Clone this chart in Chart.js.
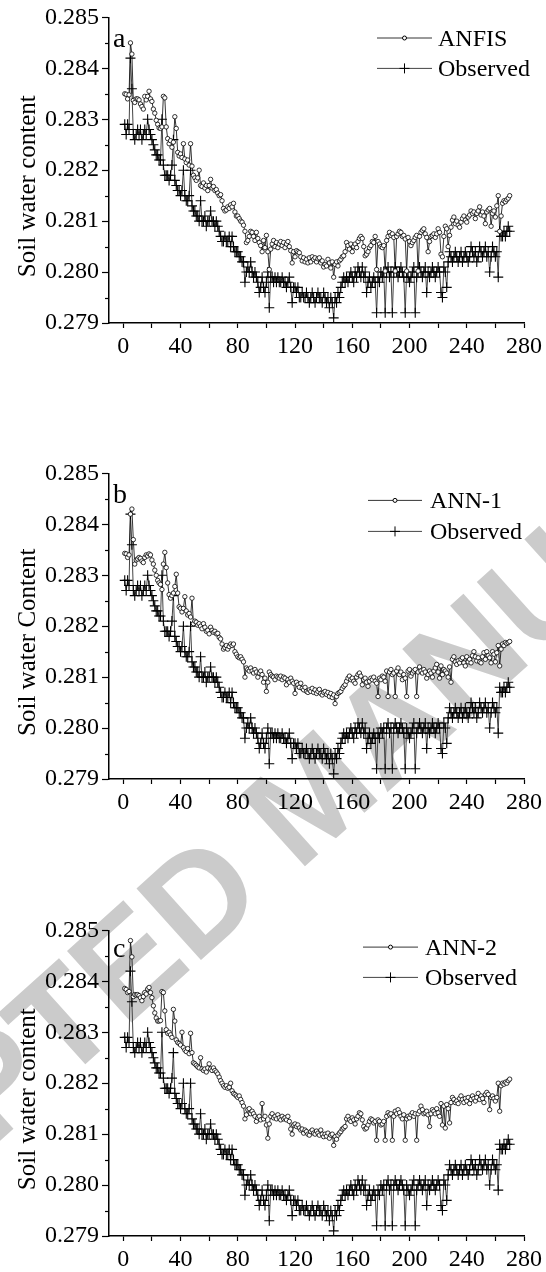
<!DOCTYPE html>
<html>
<head>
<meta charset="utf-8">
<title>Soil water content: ANFIS, ANN-1, ANN-2 vs observed</title>
<script src="https://cdn.jsdelivr.net/npm/chart.js"></script>
<style>
    body { margin: 0; background: #fff; }
    #page { position: relative; width: 546px; height: 1272px; overflow: hidden; }
    #mark { position: absolute; left: 0; top: 0; }
    .panel { position: absolute; left: 0; width: 546px; height: 368px; }
</style>
</head>
<body>
<div id="page">
    <canvas id="mark" width="546" height="1272"></canvas>
    <div class="panel" style="top:0px"><canvas id="chartA"></canvas></div>
    <div class="panel" style="top:456px"><canvas id="chartB"></canvas></div>
    <div class="panel" style="top:913px"><canvas id="chartC"></canvas></div>
</div>

<script>
// ---- data ----
const xTicks = [0, 20, 40, 60, 80, 100, 120, 140, 160, 180, 200, 220, 240, 260, 280];
const xLabels = [0, 40, 80, 120, 160, 200, 240, 280];
const yTicks = [0.279, 0.2795, 0.280, 0.2805, 0.281, 0.2815, 0.282, 0.2825, 0.283, 0.2835, 0.284, 0.2845, 0.285];
const yLabels = [0.279, 0.280, 0.281, 0.282, 0.283, 0.284, 0.285];

// day number of each observation
const days = Array.from({ length: 270 }, (_, i) => i + 1);

const observed = [
    0.2829, 0.2827, 0.2829, 0.2828, 0.2842, 0.2836, 0.2827, 0.2826, 0.2827, 0.2828,
    0.2827, 0.2828, 0.2826, 0.2827, 0.2828, 0.2827, 0.2830, 0.2828, 0.2827, 0.2826,
    0.2825, 0.2824, 0.2823, 0.2823, 0.2822, 0.2822, 0.2830, 0.2821, 0.2819, 0.2819,
    0.2819, 0.2818, 0.2819, 0.2821, 0.2826, 0.2818, 0.2817, 0.2816, 0.2816, 0.2815,
    0.2816, 0.2820, 0.2815, 0.2814, 0.2814, 0.2815, 0.2820, 0.2813, 0.2812, 0.2812,
    0.2811, 0.2811, 0.2810, 0.2814, 0.2810, 0.2810, 0.2811, 0.2809, 0.2810, 0.2810,
    0.2812, 0.2810, 0.2810, 0.2809, 0.2810, 0.2809, 0.2808, 0.2807, 0.2806, 0.2806,
    0.2807, 0.2806, 0.2806, 0.2807, 0.2805, 0.2807, 0.2805, 0.2804, 0.2804, 0.2804,
    0.2803, 0.2803, 0.2802, 0.2802, 0.2798, 0.2800, 0.2801, 0.2800, 0.2802, 0.2800,
    0.2799, 0.2800, 0.2799, 0.2798, 0.2796, 0.2797, 0.2799, 0.2797, 0.2796, 0.2798,
    0.2800, 0.2793, 0.2799, 0.2799, 0.2798, 0.2799, 0.2798, 0.2799, 0.2798, 0.2798,
    0.2799, 0.2798, 0.2798, 0.2797, 0.2798, 0.2799, 0.2797, 0.2794, 0.2797, 0.2797,
    0.2796, 0.2797, 0.2795, 0.2795, 0.2796, 0.2795, 0.2795, 0.2796, 0.2795, 0.2794,
    0.2795, 0.2796, 0.2795, 0.2794, 0.2795, 0.2796, 0.2795, 0.2795, 0.2794, 0.2796,
    0.2795, 0.2794, 0.2795, 0.2793, 0.2795, 0.2794, 0.2791, 0.2795, 0.2794, 0.2796,
    0.2795, 0.2797, 0.2798, 0.2799, 0.2798, 0.2799, 0.2798, 0.2799, 0.2800, 0.2799,
    0.2798, 0.2800, 0.2799, 0.2801, 0.2800, 0.2799, 0.2801, 0.2799, 0.2800, 0.2796,
    0.2798, 0.2799, 0.2797, 0.2798, 0.2799, 0.2798, 0.2792, 0.2799, 0.2798, 0.2800,
    0.2799, 0.2800, 0.2792, 0.2800, 0.2801, 0.2799, 0.2800, 0.2792, 0.2800, 0.2801,
    0.2800, 0.2799, 0.2800, 0.2801, 0.2800, 0.2799, 0.2792, 0.2800, 0.2799, 0.2798,
    0.2799, 0.2800, 0.2801, 0.2792, 0.2799, 0.2800, 0.2801, 0.2800, 0.2799, 0.2800,
    0.2801, 0.2796, 0.2800, 0.2799, 0.2800, 0.2801, 0.2800, 0.2799, 0.2800, 0.2801,
    0.2800, 0.2796, 0.2795, 0.2801, 0.2800, 0.2797, 0.2802, 0.2804, 0.2803, 0.2802,
    0.2803, 0.2804, 0.2803, 0.2802, 0.2803, 0.2804, 0.2802, 0.2803, 0.2804, 0.2803,
    0.2802, 0.2803, 0.2805, 0.2804, 0.2803, 0.2804, 0.2802, 0.2803, 0.2805, 0.2804,
    0.2803, 0.2804, 0.2805, 0.2803, 0.2804, 0.2800, 0.2803, 0.2805, 0.2804, 0.2803,
    0.2804, 0.2799, 0.2808, 0.2807, 0.2807, 0.2808, 0.2807, 0.2808, 0.2809, 0.2808
];

const anfis = [
    0.28350, 0.28349, 0.28340, 0.28348, 0.28450, 0.28428, 0.28337, 0.28333, 0.28340, 0.28340,
    0.28338, 0.28330, 0.28325, 0.28320, 0.28345, 0.28338, 0.28345, 0.28355, 0.28340, 0.28335,
    0.28320, 0.28312, 0.28298, 0.28290, 0.28283, 0.28282, 0.28285, 0.28345, 0.28342, 0.28285,
    0.28262, 0.28252, 0.28258, 0.28245, 0.28255, 0.28305, 0.28282, 0.28235, 0.28228, 0.28232,
    0.28225, 0.28252, 0.28222, 0.28215, 0.28220, 0.28210, 0.28252, 0.28208, 0.28190, 0.28185,
    0.28180, 0.28185, 0.28200, 0.28170, 0.28168, 0.28175, 0.28165, 0.28170, 0.28160, 0.28170,
    0.28182, 0.28165, 0.28168, 0.28160, 0.28162, 0.28155, 0.28150, 0.28152, 0.28140, 0.28125,
    0.28120, 0.28122, 0.28128, 0.28125, 0.28132, 0.28128, 0.28135, 0.28118, 0.28110, 0.28110,
    0.28105, 0.28100, 0.28098, 0.28092, 0.28080, 0.28058, 0.28062, 0.28070, 0.28080, 0.28078,
    0.28070, 0.28062, 0.28078, 0.28066, 0.28058, 0.28052, 0.28040, 0.28062, 0.28048, 0.28072,
    0.28040, 0.28005, 0.28045, 0.28055, 0.28062, 0.28050, 0.28058, 0.28048, 0.28055, 0.28060,
    0.28052, 0.28058, 0.28048, 0.28055, 0.28060, 0.28050, 0.28042, 0.28018, 0.28040, 0.28030,
    0.28042, 0.28040, 0.28038, 0.28030, 0.28022, 0.28028, 0.28020, 0.28025, 0.28018, 0.28028,
    0.28020, 0.28030, 0.28025, 0.28028, 0.28020, 0.28026, 0.28028, 0.28018, 0.28022, 0.28010,
    0.28015, 0.28012, 0.28025, 0.28018, 0.28008, 0.28020, 0.27990, 0.28015, 0.28020, 0.28012,
    0.28022, 0.28025, 0.28030, 0.28032, 0.28040, 0.28058, 0.28052, 0.28045, 0.28055, 0.28040,
    0.28050, 0.28055, 0.28048, 0.28060, 0.28066, 0.28070, 0.28066, 0.28050, 0.28032, 0.28035,
    0.28040, 0.28048, 0.28052, 0.28060, 0.28058, 0.28070, 0.28005, 0.28060, 0.28055, 0.28050,
    0.28048, 0.28052, 0.28002, 0.28062, 0.28070, 0.28078, 0.28072, 0.28075, 0.28068, 0.28002,
    0.28070, 0.28075, 0.28080, 0.28078, 0.28070, 0.28072, 0.28065, 0.28002, 0.28068, 0.28060,
    0.28052, 0.28058, 0.28062, 0.28068, 0.28072, 0.28002, 0.28070, 0.28078, 0.28082, 0.28085,
    0.28075, 0.28068, 0.28040, 0.28060, 0.28070, 0.28072, 0.28075, 0.28068, 0.28075, 0.28085,
    0.28078, 0.28035, 0.28030, 0.28070, 0.28090, 0.28085, 0.28050, 0.28072, 0.28088, 0.28102,
    0.28108, 0.28095, 0.28100, 0.28092, 0.28088, 0.28098, 0.28105, 0.28110, 0.28102, 0.28098,
    0.28108, 0.28112, 0.28120, 0.28115, 0.28118, 0.28105, 0.28115, 0.28120, 0.28128, 0.28112,
    0.28118, 0.28110, 0.28095, 0.28118, 0.28122, 0.28125, 0.28090, 0.28115, 0.28120, 0.28108,
    0.28130, 0.28150, 0.28080, 0.28110, 0.28135, 0.28140, 0.28138, 0.28142, 0.28145, 0.28150
];

const ann1 = [
    0.28343, 0.28342, 0.28335, 0.28340, 0.28420, 0.28430, 0.28370, 0.28322, 0.28330, 0.28332,
    0.28335, 0.28333, 0.28328, 0.28325, 0.28335, 0.28340, 0.28338, 0.28342, 0.28340, 0.28330,
    0.28322, 0.28310, 0.28300, 0.28290, 0.28285, 0.28282, 0.28272, 0.28322, 0.28345, 0.28315,
    0.28285, 0.28262, 0.28255, 0.28260, 0.28265, 0.28278, 0.28302, 0.28265, 0.28238, 0.28235,
    0.28228, 0.28235, 0.28258, 0.28230, 0.28222, 0.28225, 0.28218, 0.28255, 0.28205, 0.28210,
    0.28208, 0.28202, 0.28205, 0.28200, 0.28195, 0.28205, 0.28198, 0.28190, 0.28192, 0.28185,
    0.28198, 0.28192, 0.28188, 0.28190, 0.28185, 0.28186, 0.28178, 0.28175, 0.28165, 0.28155,
    0.28158, 0.28162, 0.28155, 0.28160, 0.28165, 0.28162, 0.28165, 0.28150, 0.28145, 0.28140,
    0.28138, 0.28140, 0.28135, 0.28130, 0.28100, 0.28118, 0.28115, 0.28112, 0.28118, 0.28112,
    0.28108, 0.28115, 0.28110, 0.28100, 0.28108, 0.28112, 0.28105, 0.28090, 0.28098, 0.28072,
    0.28090, 0.28110, 0.28105, 0.28102, 0.28100, 0.28095, 0.28102, 0.28100, 0.28098, 0.28102,
    0.28095, 0.28100, 0.28098, 0.28085, 0.28095, 0.28090, 0.28098, 0.28092, 0.28088, 0.28068,
    0.28090, 0.28085, 0.28080, 0.28088, 0.28078, 0.28075, 0.28080, 0.28072, 0.28070, 0.28075,
    0.28072, 0.28078, 0.28070, 0.28075, 0.28068, 0.28072, 0.28076, 0.28068, 0.28065, 0.28070,
    0.28072, 0.28066, 0.28070, 0.28062, 0.28068, 0.28060, 0.28065, 0.28048, 0.28062, 0.28068,
    0.28070, 0.28072, 0.28078, 0.28082, 0.28085, 0.28092, 0.28098, 0.28102, 0.28095, 0.28098,
    0.28092, 0.28088, 0.28100, 0.28105, 0.28108, 0.28102, 0.28085, 0.28095, 0.28098, 0.28090,
    0.28082, 0.28092, 0.28098, 0.28095, 0.28100, 0.28092, 0.28088, 0.28062, 0.28098, 0.28095,
    0.28102, 0.28100, 0.28092, 0.28112, 0.28062, 0.28110, 0.28115, 0.28105, 0.28108, 0.28062,
    0.28112, 0.28118, 0.28105, 0.28110, 0.28095, 0.28105, 0.28098, 0.28062, 0.28112, 0.28115,
    0.28102, 0.28108, 0.28112, 0.28115, 0.28062, 0.28110, 0.28120, 0.28112, 0.28108, 0.28115,
    0.28110, 0.28098, 0.28105, 0.28112, 0.28108, 0.28100, 0.28112, 0.28118, 0.28125, 0.28110,
    0.28098, 0.28122, 0.28105, 0.28115, 0.28112, 0.28108, 0.28100, 0.28120, 0.28090, 0.28135,
    0.28140, 0.28130, 0.28125, 0.28132, 0.28128, 0.28135, 0.28138, 0.28128, 0.28122, 0.28140,
    0.28130, 0.28135, 0.28128, 0.28142, 0.28150, 0.28140, 0.28132, 0.28138, 0.28130, 0.28128,
    0.28140, 0.28148, 0.28135, 0.28150, 0.28142, 0.28138, 0.28128, 0.28150, 0.28145, 0.28130,
    0.28148, 0.28162, 0.28122, 0.28155, 0.28165, 0.28162, 0.28168, 0.28166, 0.28168, 0.28170
];

const ann2 = [
    0.28386, 0.28384, 0.28378, 0.28380, 0.28480, 0.28448, 0.28370, 0.28374, 0.28373, 0.28374,
    0.28372, 0.28368, 0.28362, 0.28370, 0.28378, 0.28375, 0.28385, 0.28388, 0.28378, 0.28368,
    0.28352, 0.28338, 0.28328, 0.28322, 0.28322, 0.28323, 0.28380, 0.28378, 0.28342, 0.28305,
    0.28298, 0.28300, 0.28295, 0.28290, 0.28345, 0.28322, 0.28285, 0.28280, 0.28278, 0.28275,
    0.28300, 0.28270, 0.28265, 0.28262, 0.28268, 0.28258, 0.28298, 0.28260, 0.28240, 0.28238,
    0.28235, 0.28232, 0.28230, 0.28250, 0.28228, 0.28225, 0.28228, 0.28222, 0.28230, 0.28238,
    0.28228, 0.28225, 0.28230, 0.28225, 0.28222, 0.28218, 0.28212, 0.28205, 0.28200, 0.28195,
    0.28192, 0.28195, 0.28190, 0.28192, 0.28200, 0.28185, 0.28180, 0.28178, 0.28175, 0.28172,
    0.28175, 0.28168, 0.28162, 0.28155, 0.28130, 0.28138, 0.28148, 0.28150, 0.28140, 0.28145,
    0.28140, 0.28135, 0.28125, 0.28132, 0.28135, 0.28128, 0.28160, 0.28130, 0.28135, 0.28118,
    0.28092, 0.28120, 0.28135, 0.28140, 0.28132, 0.28135, 0.28130, 0.28138, 0.28132, 0.28128,
    0.28135, 0.28130, 0.28132, 0.28128, 0.28135, 0.28125, 0.28110, 0.28100, 0.28118, 0.28120,
    0.28115, 0.28118, 0.28112, 0.28108, 0.28110, 0.28102, 0.28108, 0.28105, 0.28100, 0.28098,
    0.28105, 0.28108, 0.28102, 0.28100, 0.28106, 0.28102, 0.28098, 0.28108, 0.28100, 0.28095,
    0.28100, 0.28096, 0.28102, 0.28092, 0.28098, 0.28100, 0.28078, 0.28095, 0.28090, 0.28098,
    0.28102, 0.28105, 0.28110, 0.28112, 0.28115, 0.28130, 0.28135, 0.28128, 0.28125, 0.28132,
    0.28128, 0.28120, 0.28130, 0.28135, 0.28142, 0.28140, 0.28128, 0.28115, 0.28110, 0.28112,
    0.28118, 0.28125, 0.28130, 0.28128, 0.28122, 0.28125, 0.28088, 0.28128, 0.28125, 0.28118,
    0.28120, 0.28125, 0.28088, 0.28135, 0.28142, 0.28138, 0.28140, 0.28088, 0.28135, 0.28145,
    0.28140, 0.28148, 0.28142, 0.28135, 0.28130, 0.28138, 0.28088, 0.28130, 0.28135, 0.28132,
    0.28138, 0.28142, 0.28135, 0.28140, 0.28088, 0.28140, 0.28145, 0.28155, 0.28148, 0.28140,
    0.28142, 0.28145, 0.28138, 0.28115, 0.28140, 0.28148, 0.28145, 0.28140, 0.28150, 0.28142,
    0.28135, 0.28160, 0.28118, 0.28155, 0.28112, 0.28158, 0.28150, 0.28122, 0.28162, 0.28172,
    0.28168, 0.28162, 0.28165, 0.28160, 0.28170, 0.28175, 0.28168, 0.28162, 0.28170, 0.28165,
    0.28172, 0.28160, 0.28168, 0.28175, 0.28170, 0.28165, 0.28172, 0.28180, 0.28168, 0.28175,
    0.28170, 0.28162, 0.28178, 0.28182, 0.28178, 0.28148, 0.28172, 0.28175, 0.28170, 0.28165,
    0.28172, 0.28200, 0.28145, 0.28195, 0.28200, 0.28198, 0.28202, 0.28200, 0.28205, 0.28208
];

// ---- drawing ----
const SERIF = "'Liberation Serif', 'Times New Roman', serif";
const isMajorY = v => yLabels.some(l => Math.abs(l - v) < 1e-7);

// journal watermark behind the three panels
(function drawWatermark() {
    const ctx = document.getElementById('mark').getContext('2d');
    const text = 'ACCEPTED MANUSCRIPT';
    ctx.font = "bold 140px 'Liberation Sans', Arial, sans-serif";
    ctx.fillStyle = '#cbcbcb';
    // bottom-left corner of the first "E" sits at about (132, 1022)
    const pre = ctx.measureText('ACCEPT').width + 10;
    ctx.translate(132, 1022);
    ctx.rotate(-42 * Math.PI / 180);
    ctx.fillText(text, -pre, 0);
})();

// axis title, panel letter, minor y ticks and in-plot legend
const decorations = {
    id: 'decorations',
    afterDraw(chart, args, opts) {
        const ctx = chart.ctx;
        const area = chart.chartArea;
        const ys = chart.scales.y;
        ctx.save();

        // short minor ticks on the y axis
        ctx.strokeStyle = '#000';
        ctx.lineWidth = 1.2;
        ys.ticks.forEach(t => {
            if (isMajorY(t.value)) return;
            const py = Math.round(ys.getPixelForValue(t.value)) + 0.5;
            ctx.beginPath();
            ctx.moveTo(area.left - 4, py);
            ctx.lineTo(area.left, py);
            ctx.stroke();
        });

        ctx.fillStyle = '#000';
        // y axis title
        ctx.save();
        ctx.translate(35, (area.top + area.bottom) / 2 + 16);
        ctx.rotate(-Math.PI / 2);
        ctx.font = '25px ' + SERIF;
        ctx.textAlign = 'center';
        ctx.textBaseline = 'alphabetic';
        ctx.fillText(opts.title, 0, 0);
        ctx.restore();

        // panel letter
        ctx.font = '28px ' + SERIF;
        ctx.textAlign = 'left';
        ctx.fillText(opts.letter, area.left + 4, area.top + opts.letterDy);

        // legend
        ctx.font = '24px ' + SERIF;
        chart.data.datasets.forEach((ds, i) => {
            const y = area.top + opts.legendRows[i];
            const [x1, x2, xt] = opts.legendX;
            ctx.strokeStyle = ds.borderColor;
            ctx.lineWidth = ds.borderWidth;
            ctx.beginPath();
            ctx.moveTo(x1, y);
            ctx.lineTo(x2, y);
            ctx.stroke();
            const xm = (x1 + x2) / 2;
            ctx.strokeStyle = '#000';
            ctx.lineWidth = 1;
            if (ds.pointStyle === 'circle') {
                ctx.fillStyle = '#fff';
                ctx.beginPath();
                ctx.arc(xm, y, 2, 0, Math.PI * 2);
                ctx.fill();
                ctx.stroke();
            } else {
                ctx.beginPath();
                ctx.moveTo(xm - 5, y); ctx.lineTo(xm + 5, y);
                ctx.moveTo(xm, y - 5); ctx.lineTo(xm, y + 5);
                ctx.stroke();
            }
            ctx.fillStyle = '#000';
            ctx.fillText(ds.label, xt, y + 8);
        });
        ctx.restore();
    }
};

function makePanel(canvasId, model, modelLabel, title, letter, letterDy, legendRows, legendX) {
    return new Chart(document.getElementById(canvasId), {
        type: 'line',
        data: {
            labels: days,
            datasets: [
                {
                    label: modelLabel,
                    data: model,
                    order: 1,
                    borderColor: '#000',
                    borderWidth: 0.8,
                    pointStyle: 'circle',
                    pointRadius: 2.2,
                    pointBackgroundColor: '#fff',
                    pointBorderColor: '#000',
                    pointBorderWidth: 0.8,
                    tension: 0
                },
                {
                    label: 'Observed',
                    data: observed,
                    order: 2,
                    borderColor: '#444',
                    borderWidth: 1,
                    pointStyle: 'cross',
                    pointRadius: 5,
                    pointBorderColor: '#000',
                    pointBorderWidth: 1.1,
                    tension: 0
                }
            ]
        },
        options: {
            responsive: true,
            maintainAspectRatio: false,
            animation: false,
            layout: { padding: { top: 17, right: 21, bottom: 0, left: 0 } },
            plugins: {
                legend: { display: false },
                tooltip: { enabled: false },
                decorations: { title, letter, letterDy, legendRows, legendX }
            },
            scales: {
                x: {
                    type: 'linear',
                    min: -10,
                    max: 280,
                    border: { display: true, color: '#000', width: 1.5 },
                    grid: { drawOnChartArea: false, drawTicks: true, tickLength: 5, tickColor: '#000', tickWidth: 1.2 },
                    afterBuildTicks: s => { s.ticks = xTicks.map(v => ({ value: v })); },
                    afterFit: s => { s.height = 45; },
                    ticks: {
                        autoSkip: false,
                        maxRotation: 0,
                        padding: 4,
                        color: '#000',
                        font: { family: SERIF, size: 24 },
                        callback: v => xLabels.includes(v) ? String(v) : ''
                    }
                },
                y: {
                    min: 0.279,
                    max: 0.285,
                    border: { display: true, color: '#000', width: 1.5 },
                    grid: {
                        drawOnChartArea: false,
                        drawTicks: true,
                        tickLength: 7,
                        tickWidth: 1.2,
                        tickColor: c => isMajorY(c.tick.value) ? '#000' : 'rgba(0,0,0,0)'
                    },
                    afterBuildTicks: s => { s.ticks = yTicks.map(v => ({ value: v })); },
                    afterFit: s => { s.width = 109; },
                    ticks: {
                        autoSkip: false,
                        padding: 3,
                        color: '#000',
                        font: { family: SERIF, size: 24 },
                        callback: v => isMajorY(v) ? v.toFixed(3) : ''
                    }
                }
            }
        },
        plugins: [decorations]
    });
}

makePanel('chartA', anfis, 'ANFIS', 'Soil water content', 'a', 30, [20.6, 51], [377, 432, 438]);
makePanel('chartB', ann1, 'ANN-1', 'Soil water Content', 'b', 30, [27, 58], [368, 422, 430]);
makePanel('chartC', ann2, 'ANN-2', 'Soil water content', 'c', 27, [16.7, 47], [363, 418, 425]);
</script>
</body>
</html>
